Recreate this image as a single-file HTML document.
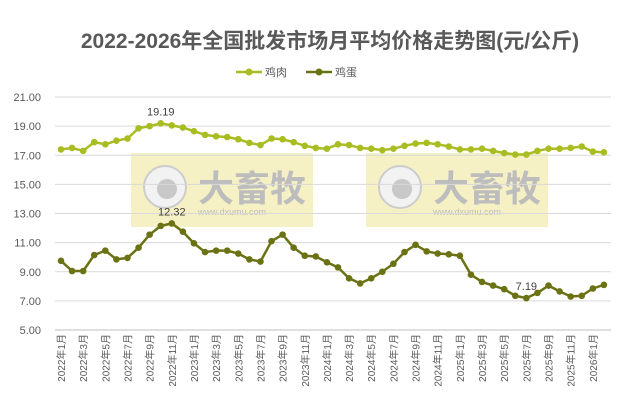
<!DOCTYPE html>
<html><head><meta charset="utf-8"><style>
body{margin:0;background:#fff;font-family:"Liberation Sans","Noto Sans CJK SC",sans-serif}
</style></head><body>
<svg width="629" height="406" id="c" style="display:block">
<text x="330" y="48" text-anchor="middle" font-size="21" font-weight="bold" fill="#595959">2022-2026年全国批发市场月平均价格走势图(元/公斤)</text>
<g font-size="11" fill="#595959">
<line x1="236" y1="72" x2="262" y2="72" stroke="#a9bd22" stroke-width="2.5"/><circle cx="249" cy="72" r="3.5" fill="#a9bd22"/><text x="265" y="76">鸡肉</text>
<line x1="306" y1="72" x2="332" y2="72" stroke="#6b7214" stroke-width="2.5"/><circle cx="319" cy="72" r="3.5" fill="#6b7214"/><text x="335" y="76">鸡蛋</text>
</g>
<g>
<rect x="131" y="153" width="182" height="74" fill="#f4eeb5" opacity="0.8"/>
<circle cx="165" cy="187" r="21" fill="#f2f2f2" stroke="#ccc" stroke-width="2"/><circle cx="167" cy="189" r="10" fill="#c8c8c8"/>
<text x="198" y="201" font-size="36" font-weight="bold" fill="#bdbdbd">大畜牧</text>
<text x="198" y="215" font-size="9" fill="#bdbdbd">www.dxumu.com</text>
<rect x="366" y="153" width="182" height="74" fill="#f4eeb5" opacity="0.8"/>
<circle cx="400" cy="187" r="21" fill="#f2f2f2" stroke="#ccc" stroke-width="2"/><circle cx="402" cy="189" r="10" fill="#c8c8c8"/>
<text x="433" y="201" font-size="36" font-weight="bold" fill="#bdbdbd">大畜牧</text>
<text x="433" y="215" font-size="9" fill="#bdbdbd">www.dxumu.com</text>
</g>
<g id="g"></g>
</svg>
<script>
const categories=[];for(let y=2022;y<=2026;y++)for(let m=1;m<=12;m++){if(categories.length<50)categories.push(y+'年'+m+'月');}
const chicken=[17.4,17.5,17.3,17.9,17.75,18.0,18.15,18.85,19.0,19.19,19.05,18.9,18.65,18.4,18.3,18.25,18.1,17.85,17.7,18.15,18.1,17.9,17.65,17.5,17.45,17.75,17.7,17.5,17.45,17.35,17.45,17.65,17.8,17.85,17.75,17.6,17.4,17.4,17.45,17.3,17.15,17.05,17.05,17.3,17.45,17.45,17.5,17.6,17.25,17.2];
const eggs=[9.75,9.05,9.05,10.15,10.45,9.85,9.95,10.65,11.55,12.15,12.32,11.75,10.95,10.35,10.45,10.45,10.25,9.85,9.7,11.1,11.55,10.65,10.1,10.05,9.65,9.3,8.55,8.2,8.55,9.0,9.55,10.35,10.85,10.4,10.25,10.2,10.1,8.8,8.3,8.05,7.8,7.35,7.19,7.55,8.05,7.65,7.3,7.35,7.85,8.1];
const yTicks=[5,7,9,11,13,15,17,19,21];
const NS='http://www.w3.org/2000/svg',g=document.getElementById('g');
const X=i=>61+i*11.08, Y=v=>330-(v-5)*14.5625;
function mk(t,a,p){const e=document.createElementNS(NS,t);for(const k in a)e.setAttribute(k,a[k]);(p||g).appendChild(e);return e;}
yTicks.forEach(v=>{const l=mk('line',{x1:55,x2:611,y1:Y(v),y2:Y(v),stroke:v==5?'#bfbfbf':'#d9d9d9'});


const t=mk('text',{x:41,y:Y(v)+4,'text-anchor':'end','font-size':11,fill:'#595959'});t.textContent=v.toFixed(2);

});
categories.forEach((c,i)=>{if(i%2)return;const t=mk('text',{transform:`translate(${X(i)+4},334) rotate(-90)`,'text-anchor':'end','font-size':10,fill:'#595959'});t.textContent=c;

});
function series(d,col,name){const s=mk('g',{});


mk('polyline',{points:d.map((v,i)=>X(i)+','+Y(v)).join(' '),fill:'none',stroke:col,'stroke-width':2.5},s);
d.forEach((v,i)=>{const c=mk('circle',{cx:X(i),cy:Y(v),r:3.3,fill:col},s);

});}
series(chicken,'#a9bd22','chicken-series');series(eggs,'#6b7214','egg-series');
function lab(d,i){const t=mk('text',{x:X(i),y:Y(d[i])-8,'text-anchor':'middle','font-size':11,fill:'#404040'});t.textContent=d[i].toFixed(2);

}
lab(chicken,chicken.indexOf(Math.max(...chicken)));lab(eggs,eggs.indexOf(Math.max(...eggs)));lab(eggs,eggs.indexOf(Math.min(...eggs)));
</script>
</body></html>
